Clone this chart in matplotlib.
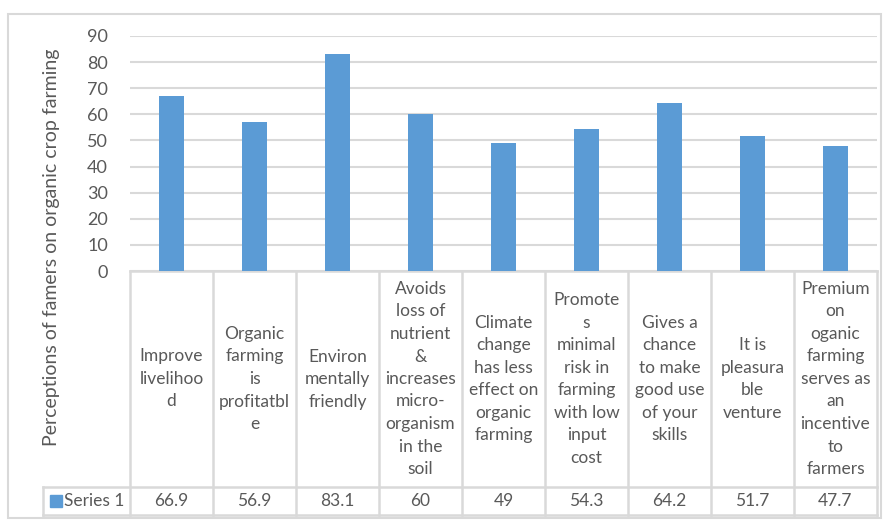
import matplotlib.pyplot as plt
import matplotlib.transforms as mtransforms
from matplotlib.patches import Rectangle

# ----------------------------
# Data
# ----------------------------

categories = [
    "Improve\nlivelihoo\nd",
    "Organic\nfarming\nis\nprofitatbl\ne",
    "Environ\nmentally\nfriendly",
    "Avoids\nloss of\nnutrient\n&\nincreases\nmicro-\norganism\nin the\nsoil",
    "Climate\nchange\nhas less\neffect on\norganic\nfarming",
    "Promote\ns\nminimal\nrisk in\nfarming\nwith low\ninput\ncost",
    "Gives a\nchance\nto make\ngood use\nof your\nskills",
    "It is\npleasura\nble\nventure",
    "Premium\non\noganic\nfarming\nserves as\nan\nincentive\nto\nfarmers",
]
values = [66.9, 56.9, 83.1, 60, 49, 54.3, 64.2, 51.7, 47.7]
series_name = "Series 1"
y_ticks = [0, 10, 20, 30, 40, 50, 60, 70, 80, 90]
y_title = "Perceptions of famers on organic crop farming"

# ----------------------------
# Style
# ----------------------------

W, H = 884, 520
BAR = "#5b9bd5"
GRID = "#d9d9d9"
TXT = "#595959"
FS = 12.5
plt.rcParams["font.family"] = ["Lato", "DejaVu Sans"]


def fy(px):
    # pixel row (from top) -> figure fraction
    return 1 - px / H


fig = plt.figure(figsize=(W / 100, H / 100), dpi=100)

# chart border
fig.patches.append(Rectangle((8 / W, fy(518)), 873 / W, (518 - 14) / H,
                             transform=fig.transFigure, fill=False,
                             edgecolor=GRID, linewidth=1.5))

plot_l, plot_r = 130, 877
axis_top, axis_bot = 36, 271
ax = fig.add_axes([plot_l / W, fy(axis_bot), (plot_r - plot_l) / W,
                   (axis_bot - axis_top) / H])

# ----------------------------
# Bars
# ----------------------------

x = list(range(len(values)))
ax.bar(x, values, width=0.3, color=BAR, zorder=3)

ax.set_xlim(-0.5, len(values) - 0.5)
ax.set_ylim(0, 90)
ax.set_yticks(y_ticks)
ax.set_xticks([])
ax.yaxis.grid(True, color=GRID, linewidth=1.5, zorder=0)
for s in ax.spines.values():
    s.set_visible(False)
ax.tick_params(axis="y", length=0, pad=16, labelsize=13, labelcolor=TXT)

fig.text(52 / W, fy(247), y_title, rotation=90, ha="center", va="center",
         fontsize=14, color=TXT)

# ----------------------------
# Data table
# ----------------------------

tr = mtransforms.blended_transform_factory(ax.transData, fig.transFigure)
head_top, head_bot, row_bot = 271, 487, 515
lw = 1.8
edges = [i - 0.5 for i in range(len(values) + 1)]
left_px = 43

# horizontal rules
ax.plot([edges[0], edges[-1]], [fy(head_top)] * 2, transform=tr,
        color=GRID, lw=lw, clip_on=False)
for row in (head_bot, row_bot):
    fig.add_artist(plt.Line2D([left_px / W, plot_r / W], [fy(row)] * 2,
                              color=GRID, lw=lw))
# vertical rules
for e in edges:
    ax.plot([e, e], [fy(head_top), fy(row_bot)], transform=tr,
            color=GRID, lw=lw, clip_on=False)
fig.add_artist(plt.Line2D([left_px / W] * 2, [fy(head_bot), fy(row_bot)],
                          color=GRID, lw=lw))

# category headers and values
for xi, cat, v in zip(x, categories, values):
    ax.text(xi, fy((head_top + head_bot) / 2), cat, transform=tr,
            ha="center", va="center", fontsize=FS, color=TXT,
            linespacing=1.5)
    ax.text(xi, fy((head_bot + row_bot) / 2), f"{v:g}", transform=tr,
            ha="center", va="center", fontsize=FS, color=TXT)

# legend key in the series row
fig.patches.append(Rectangle((50 / W, fy(507)), 12 / W, 12 / H,
                             transform=fig.transFigure, color=BAR))
fig.text(64 / W, fy((head_bot + row_bot) / 2), series_name, ha="left",
         va="center", fontsize=FS, color=TXT)

fig.savefig("out.png", dpi=100)
